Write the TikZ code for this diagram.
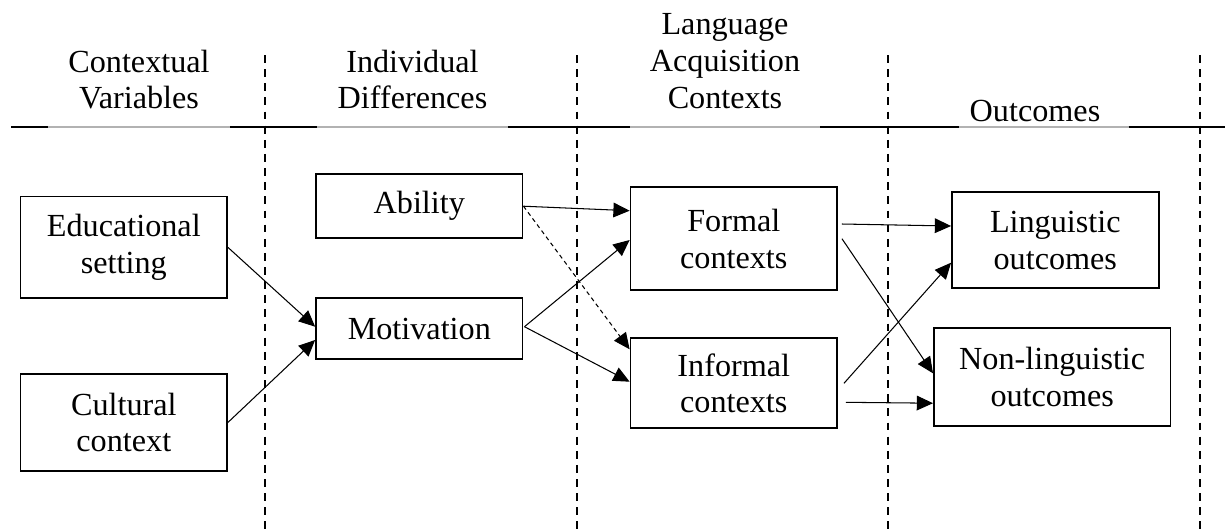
\documentclass[tikz,border=0pt]{standalone}
\usepackage{fontspec}
\setmainfont{Liberation Serif}
\usetikzlibrary{arrows.meta}
\newdimen\pxu \pxu=0.382pt
\begin{document}
\tikzset{
  box/.style={draw, line width=0.7pt, rectangle, inner sep=0pt, align=center, font=\fontsize{12.3}{14}\selectfont},
  hdr/.style={align=center, font=\fontsize{12.3}{14}\selectfont, inner sep=0pt},
  arr/.style={line width=0.4pt, -{Triangle[length=6.2pt,width=5.6pt]}},
  darr/.style={arr, dash pattern=on 1.6pt off 1.3pt},
  sep/.style={line width=0.75pt, dash pattern=on 3pt off 2.4pt},
}
\begin{tikzpicture}[x=0.382pt,y=-0.382pt]
\useasboundingbox (0,0) rectangle (1225,531);
% header rule
\draw[gray!60, line width=0.6pt] (11,127) -- (1225,127);
\draw[line width=0.5pt] (11,127) -- (48,127) (230,127) -- (317,127) (508,127) -- (630,127) (820,127) -- (958.6,127) (1128.7,127) -- (1225,127);
% separators
\draw[sep] (265,55) -- (265,531);
\draw[sep] (577,55) -- (577,531);
\draw[sep] (888,55) -- (888,531);
\draw[sep] (1200,55) -- (1200,531);
% headers
\node[hdr] (h1) at (139,79.5) {Contextual\\Variables};
\node[hdr] (h2) at (412.5,79.5) {Individual\\Differences};
\node[hdr] (h3) at (725,61) {Language\\Acquisition\\Contexts};
\node[hdr] (h4) at (1035,110.5) {Outcomes};
% boxes
\node[box, minimum width=206.5\pxu, minimum height=101.8\pxu] (edu) at (123.8,247.4) {Educational\\setting};
\node[box, minimum width=206.5\pxu, minimum height=96.7\pxu] (cult) at (123.8,422.4) {Cultural\\context};
\node[box, minimum width=206.5\pxu, minimum height=64.3\pxu] (abil) at (419.3,206.2) {Ability};
\node[box, minimum width=206.5\pxu, minimum height=60.7\pxu] (moti) at (419.3,328.7) {Motivation};
\node[box, minimum width=206.5\pxu, minimum height=102.7\pxu] (formal) at (733.8,238.7) {Formal\\contexts};
\node[box, minimum width=206.5\pxu, minimum height=90\pxu] (informal) at (733.8,383.3) {Informal\\contexts};
\node[box, minimum width=206.6\pxu, minimum height=96\pxu] (ling) at (1055.3,240.3) {Linguistic\\outcomes};
\node[box, minimum width=236.5\pxu, minimum height=97.7\pxu] (nonling) at (1052.2,377.2) {Non-linguistic\\outcomes};
% arrows
\draw[arr] (edu.east) -- ([shift={(0,-2)}]moti.west);
\draw[arr] (cult.east) -- ([shift={(0,11.3)}]moti.west);
\draw[arr] (abil.east) -- ([shift={(0,-28)}]formal.west);
\draw[darr] (abil.east) -- ([shift={(0,-34)}]informal.west);
\draw[arr] ([shift={(1,-2)}]moti.east) -- ([shift={(0,1.3)}]formal.west);
\draw[arr] ([shift={(1,-2)}]moti.east) -- ([shift={(0,-1.6)}]informal.west);
\draw[arr] ([shift={(4,-14.7)}]formal.east) -- ([shift={(0,-14.3)}]ling.west);
\draw[arr] ([shift={(4,0)}]formal.east) -- ([shift={(0,-3.9)}]nonling.west);
\draw[arr] ([shift={(6,0)}]informal.east) -- ([shift={(0,22.4)}]ling.west);
\draw[arr] ([shift={(8,19)}]informal.east) -- ([shift={(0,26)}]nonling.west);
\end{tikzpicture}
\end{document}
